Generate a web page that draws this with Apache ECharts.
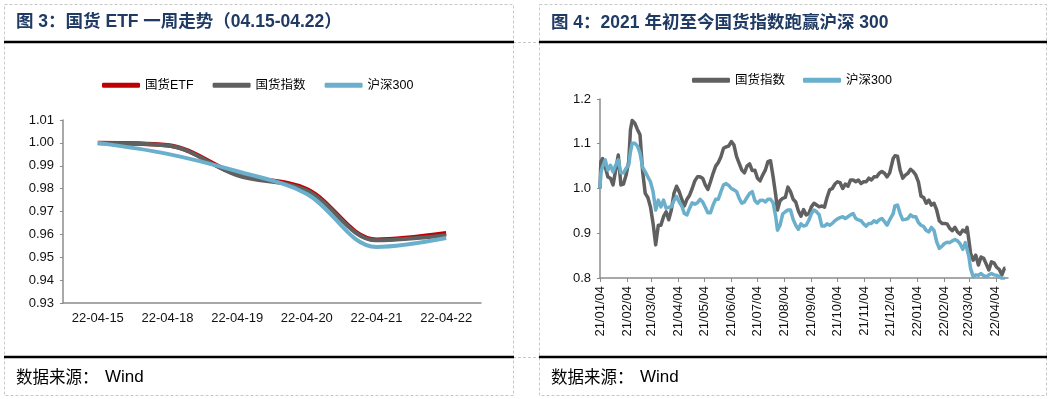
<!DOCTYPE html>
<html>
<head>
<meta charset="utf-8">
<title>国货ETF</title>
<script src="https://cdn.jsdelivr.net/npm/echarts@6.0.0/dist/echarts.min.js"></script>
<style>
    html, body { margin: 0; padding: 0; background: #fff; }
    #myChart { width: 1053px; height: 399px; }
</style>
</head>
<body>
<div id="myChart"></div>
<script>
    // 图3：一周走势
    let weekDays = ['22-04-15', '22-04-18', '22-04-19', '22-04-20', '22-04-21', '22-04-22'];
    let etfWeek = [1.000, 0.9990, 0.9862, 0.9797, 0.9577, 0.9605];
    let idxWeek = [1.000, 0.9989, 0.9858, 0.9792, 0.9574, 0.9596];
    let hsWeek = [1.000, 0.9952, 0.9876, 0.9777, 0.9545, 0.9584];

    // 图4：2021年初至今
    let dates = [
        '2021-01-04', '2021-01-05', '2021-01-07', '2021-01-10', '2021-01-13', '2021-01-16', '2021-01-19', '2021-01-22', '2021-01-25', '2021-01-28', '2021-01-31',
        '2021-02-03', '2021-02-06', '2021-02-08', '2021-02-10', '2021-02-13', '2021-02-16', '2021-02-19', '2021-02-22', '2021-02-25', '2021-02-28',
        '2021-03-03', '2021-03-06', '2021-03-09', '2021-03-12', '2021-03-15', '2021-03-18', '2021-03-21', '2021-03-24', '2021-03-27', '2021-03-30',
        '2021-04-02', '2021-04-05', '2021-04-08', '2021-04-11', '2021-04-14', '2021-04-17', '2021-04-20', '2021-04-23', '2021-04-26', '2021-04-29',
        '2021-05-02', '2021-05-05', '2021-05-08', '2021-05-11', '2021-05-14', '2021-05-17', '2021-05-20', '2021-05-23', '2021-05-26', '2021-05-29',
        '2021-06-01', '2021-06-04', '2021-06-07', '2021-06-10', '2021-06-13', '2021-06-16', '2021-06-19', '2021-06-22', '2021-06-25', '2021-06-28',
        '2021-07-01', '2021-07-04', '2021-07-07', '2021-07-10', '2021-07-13', '2021-07-16', '2021-07-19', '2021-07-22', '2021-07-25', '2021-07-27', '2021-07-30',
        '2021-08-02', '2021-08-05', '2021-08-08', '2021-08-11', '2021-08-14', '2021-08-17', '2021-08-20', '2021-08-23', '2021-08-26', '2021-08-29',
        '2021-09-01', '2021-09-04', '2021-09-07', '2021-09-10', '2021-09-13', '2021-09-16', '2021-09-19', '2021-09-22', '2021-09-25', '2021-09-28',
        '2021-10-01', '2021-10-04', '2021-10-07', '2021-10-10', '2021-10-13', '2021-10-16', '2021-10-19', '2021-10-22', '2021-10-25', '2021-10-28', '2021-10-31',
        '2021-11-03', '2021-11-06', '2021-11-09', '2021-11-12', '2021-11-15', '2021-11-18', '2021-11-21', '2021-11-24', '2021-11-27', '2021-11-30',
        '2021-12-03', '2021-12-05', '2021-12-07', '2021-12-09', '2021-12-12', '2021-12-15', '2021-12-18', '2021-12-21', '2021-12-24', '2021-12-27', '2021-12-30',
        '2022-01-02', '2022-01-05', '2022-01-08', '2022-01-11', '2022-01-14', '2022-01-17', '2022-01-20', '2022-01-23', '2022-01-26', '2022-01-29',
        '2022-02-01', '2022-02-04', '2022-02-07', '2022-02-10', '2022-02-13', '2022-02-16', '2022-02-19', '2022-02-22', '2022-02-25', '2022-02-28',
        '2022-03-02', '2022-03-04', '2022-03-06', '2022-03-09', '2022-03-12', '2022-03-15', '2022-03-18', '2022-03-21', '2022-03-24', '2022-03-27', '2022-03-30',
        '2022-04-02', '2022-04-05', '2022-04-08', '2022-04-11', '2022-04-14', '2022-04-15'
    ];
    let idxYear = [
        1.000, 1.060, 1.067, 1.049, 1.026, 1.023, 1.008, 1.041, 1.075, 1.008, 1.010,
        1.030, 1.060, 1.131, 1.152, 1.146, 1.132, 1.120, 1.038, 0.989, 0.980,
        0.959, 0.922, 0.874, 0.918, 0.918, 0.937, 0.948, 0.930, 0.952, 0.989,
        1.005, 0.993, 0.976, 0.961, 0.976, 0.985, 1.000, 1.017, 1.026, 1.026,
        1.023, 1.008, 0.998, 1.015, 1.034, 1.050, 1.058, 1.071, 1.090, 1.093,
        1.095, 1.105, 1.097, 1.071, 1.056, 1.041, 1.035, 1.050, 1.055, 1.040,
        1.041, 1.023, 1.017, 1.030, 1.041, 1.060, 1.062, 1.026, 0.985, 0.952, 0.973,
        0.978, 0.980, 1.003, 0.993, 0.976, 0.970, 0.950, 0.938, 0.953, 0.941,
        0.944, 0.959, 0.967, 0.963, 0.959, 0.961, 0.958, 0.980, 0.997, 1.000,
        1.010, 1.015, 1.013, 1.000, 1.010, 1.005, 1.019, 1.019, 1.015, 1.019, 1.011,
        1.015, 1.015, 1.023, 1.019, 1.026, 1.026, 1.034, 1.038, 1.034, 1.026,
        1.035, 1.038, 1.067, 1.073, 1.072, 1.041, 1.023, 1.030, 1.034, 1.043, 1.038,
        1.030, 1.015, 0.983, 0.980, 0.967, 0.974, 0.963, 0.967, 0.952, 0.928,
        0.922, 0.922, 0.921, 0.911, 0.906, 0.913, 0.903, 0.898, 0.907, 0.903,
        0.913, 0.885, 0.855, 0.840, 0.851, 0.829, 0.847, 0.844, 0.831, 0.818, 0.836,
        0.834, 0.824, 0.819, 0.807, 0.822, 0.822
    ];
    let hsYear = [
        1.000, 1.035, 1.049, 1.064, 1.041, 1.052, 1.037, 1.052, 1.064, 1.035, 1.035,
        1.045, 1.052, 1.082, 1.101, 1.101, 1.095, 1.079, 1.047, 1.037, 1.026,
        1.015, 0.993, 0.952, 0.974, 0.959, 0.974, 0.956, 0.958, 0.959, 0.973,
        0.982, 0.970, 0.961, 0.944, 0.941, 0.956, 0.968, 0.965, 0.968, 0.976,
        0.970, 0.958, 0.946, 0.946, 0.963, 0.976, 0.976, 0.993, 1.008, 1.011,
        1.007, 1.000, 0.997, 0.993, 0.978, 0.967, 0.970, 0.980, 0.989, 0.993,
        0.973, 0.967, 0.973, 0.974, 0.970, 0.976, 0.976, 0.968, 0.937, 0.907, 0.918,
        0.943, 0.948, 0.952, 0.952, 0.931, 0.918, 0.909, 0.921, 0.916, 0.918,
        0.929, 0.944, 0.952, 0.948, 0.941, 0.916, 0.916, 0.921, 0.918, 0.922,
        0.928, 0.932, 0.935, 0.937, 0.933, 0.937, 0.941, 0.944, 0.933, 0.930, 0.928,
        0.921, 0.916, 0.922, 0.922, 0.928, 0.924, 0.930, 0.933, 0.926, 0.918,
        0.930, 0.933, 0.944, 0.961, 0.963, 0.944, 0.930, 0.931, 0.933, 0.941, 0.937,
        0.937, 0.924, 0.918, 0.915, 0.906, 0.903, 0.913, 0.906, 0.881, 0.866,
        0.871, 0.877, 0.880, 0.879, 0.883, 0.886, 0.883, 0.876, 0.864, 0.879,
        0.877, 0.848, 0.821, 0.803, 0.807, 0.806, 0.810, 0.805, 0.803, 0.807, 0.810,
        0.807, 0.806, 0.803, 0.799, 0.799, 0.798
    ];
    let tickDates = [
        '2021-01-04', '2021-02-04', '2021-03-04', '2021-04-04', '2021-05-04', '2021-06-04', '2021-07-04', '2021-08-04',
        '2021-09-04', '2021-10-04', '2021-11-04', '2021-12-04', '2022-01-04', '2022-02-04', '2022-03-04', '2022-04-04'
    ];

    function toTime(s) {
        let p = s.split('-');
        return new Date(+p[0], +p[1] - 1, +p[2]).getTime();
    }
    function pad(n) {
        return n < 10 ? '0' + n : '' + n;
    }

    let colors = {etf: '#C00000', idx: '#606060', hs: '#6AAFCB'};
    let navy = '#1F3A63';
    let latin = '"Liberation Sans", Arial, "Noto Sans CJK SC", sans-serif';
    let cjk = '"Noto Sans CJK SC", sans-serif';
    let tickTimes = tickDates.map(toTime);

    // 边框、标题、来源
    let dash = {stroke: '#c8c8c8', lineWidth: 1, lineDash: [3, 2], fill: 'none'};
    let graphics = [
        {type: 'rect', shape: {x: 4.5, y: 4.5, width: 509, height: 391}, style: dash},
        {type: 'rect', shape: {x: 539.5, y: 4.5, width: 507, height: 391}, style: dash},
        {type: 'line', shape: {x1: 513, y1: 42.5, x2: 539, y2: 42.5}, style: dash},
        {type: 'line', shape: {x1: 513, y1: 357.5, x2: 539, y2: 357.5}, style: dash},
        {type: 'line', shape: {x1: 4, y1: 42, x2: 514, y2: 42}, style: {stroke: '#000', lineWidth: 2.5}},
        {type: 'line', shape: {x1: 539, y1: 42, x2: 1047, y2: 42}, style: {stroke: '#000', lineWidth: 2.5}},
        {type: 'line', shape: {x1: 4, y1: 357, x2: 514, y2: 357}, style: {stroke: '#000', lineWidth: 2.5}},
        {type: 'line', shape: {x1: 539, y1: 357, x2: 1047, y2: 357}, style: {stroke: '#000', lineWidth: 2.5}},
        {type: 'text', x: 16, y: 22, style: {text: '图 3：国货 ETF 一周走势（04.15-04.22）', font: 'bold 17.5px ' + latin, fill: navy, verticalAlign: 'middle'}},
        {type: 'text', x: 551, y: 23, style: {text: '图 4：2021 年初至今国货指数跑赢沪深 300', font: 'bold 17.5px ' + latin, fill: navy, verticalAlign: 'middle'}},
        {type: 'text', x: 16, y: 377, style: {text: '数据来源：', font: '16.5px ' + cjk, fill: '#000', verticalAlign: 'middle'}},
        {type: 'text', x: 105, y: 377, style: {text: 'Wind', font: '17px ' + latin, fill: '#000', verticalAlign: 'middle'}},
        {type: 'text', x: 551, y: 377, style: {text: '数据来源：', font: '16.5px ' + cjk, fill: '#000', verticalAlign: 'middle'}},
        {type: 'text', x: 640, y: 377, style: {text: 'Wind', font: '17px ' + latin, fill: '#000', verticalAlign: 'middle'}}
    ];

    let axisLineStyle = {lineStyle: {color: '#8c8c8c', width: 1.5}};
    let labelStyle = {color: '#111', fontSize: 13, fontFamily: latin};
    let legendText = {fontSize: 12.5, color: '#000', fontFamily: latin};

    let myChart = echarts.init(document.getElementById('myChart'), null, {renderer: 'canvas'});
    let option = {
        animation: false,
        backgroundColor: '#fff',
        graphic: graphics,
        legend: [
            {
                data: ['国货ETF', '国货指数', '沪深300'],
                left: 102, top: 79, padding: 0,
                icon: 'roundRect', itemWidth: 38, itemHeight: 5, itemGap: 19,
                textStyle: legendText
            },
            {
                data: ['国货指数', '沪深300'],
                left: 692, top: 74, padding: 0,
                icon: 'roundRect', itemWidth: 38, itemHeight: 5, itemGap: 18,
                textStyle: legendText
            }
        ],
        grid: [
            {left: 63, top: 120, width: 418, height: 183, outerBoundsMode: 'none'},
            {left: 600, top: 99, width: 408, height: 179, outerBoundsMode: 'none'}
        ],
        xAxis: [
            {
                gridIndex: 0,
                type: 'category',
                data: weekDays,
                boundaryGap: true,
                axisLine: axisLineStyle,
                axisTick: {length: 4, lineStyle: {color: '#8c8c8c'}},
                axisLabel: Object.assign({margin: 9}, labelStyle)
            },
            {
                // 日期轴：用时间戳做数值轴，刻度放在每月4日
                gridIndex: 1,
                type: 'value',
                min: toTime('2021-01-04'),
                max: toTime('2022-04-18'),
                axisLine: axisLineStyle,
                axisTick: {customValues: tickTimes, length: 4, lineStyle: {color: '#8c8c8c'}},
                splitLine: {show: false},
                axisLabel: Object.assign({
                    customValues: tickTimes,
                    rotate: 90,
                    margin: 8,
                    hideOverlap: false,
                    formatter: function (v) {
                        let d = new Date(v);
                        return pad(d.getFullYear() % 100) + '/' + pad(d.getMonth() + 1) + '/' + pad(d.getDate());
                    }
                }, labelStyle)
            }
        ],
        yAxis: [
            {
                gridIndex: 0,
                type: 'value',
                min: 0.93, max: 1.01, interval: 0.01,
                axisLine: Object.assign({show: true}, axisLineStyle),
                axisTick: {show: true, length: 3, lineStyle: {color: '#8c8c8c'}},
                splitLine: {show: false},
                axisLabel: Object.assign({margin: 9, formatter: function (v) { return v.toFixed(2); }}, labelStyle)
            },
            {
                gridIndex: 1,
                type: 'value',
                min: 0.8, max: 1.2, interval: 0.1,
                axisLine: Object.assign({show: true}, axisLineStyle),
                axisTick: {show: true, length: 3, lineStyle: {color: '#8c8c8c'}},
                splitLine: {show: false},
                axisLabel: Object.assign({margin: 9, formatter: function (v) { return v.toFixed(1); }}, labelStyle)
            }
        ],
        series: [
            {
                name: '国货ETF', type: 'line', xAxisIndex: 0, yAxisIndex: 0,
                data: etfWeek, smooth: 0.35, symbol: 'none',
                itemStyle: {color: colors.etf},
                lineStyle: {color: colors.etf, width: 4.5}
            },
            {
                name: '国货指数', type: 'line', xAxisIndex: 0, yAxisIndex: 0,
                data: idxWeek, smooth: 0.35, symbol: 'none',
                itemStyle: {color: colors.idx},
                lineStyle: {color: colors.idx, width: 4}
            },
            {
                name: '沪深300', type: 'line', xAxisIndex: 0, yAxisIndex: 0,
                data: hsWeek, smooth: 0.35, symbol: 'none',
                itemStyle: {color: colors.hs},
                lineStyle: {color: colors.hs, width: 4}
            },
            {
                name: '国货指数', type: 'line', xAxisIndex: 1, yAxisIndex: 1,
                data: dates.map(function (d, i) { return [toTime(d), idxYear[i]]; }),
                symbol: 'none',
                itemStyle: {color: colors.idx},
                lineStyle: {color: colors.idx, width: 3.5, join: 'round'}
            },
            {
                name: '沪深300', type: 'line', xAxisIndex: 1, yAxisIndex: 1,
                data: dates.map(function (d, i) { return [toTime(d), hsYear[i]]; }),
                symbol: 'none',
                itemStyle: {color: colors.hs},
                lineStyle: {color: colors.hs, width: 3.5, join: 'round'}
            }
        ]
    };
    // 绘制图表
    myChart.setOption(option);
</script>
</body>
</html>
